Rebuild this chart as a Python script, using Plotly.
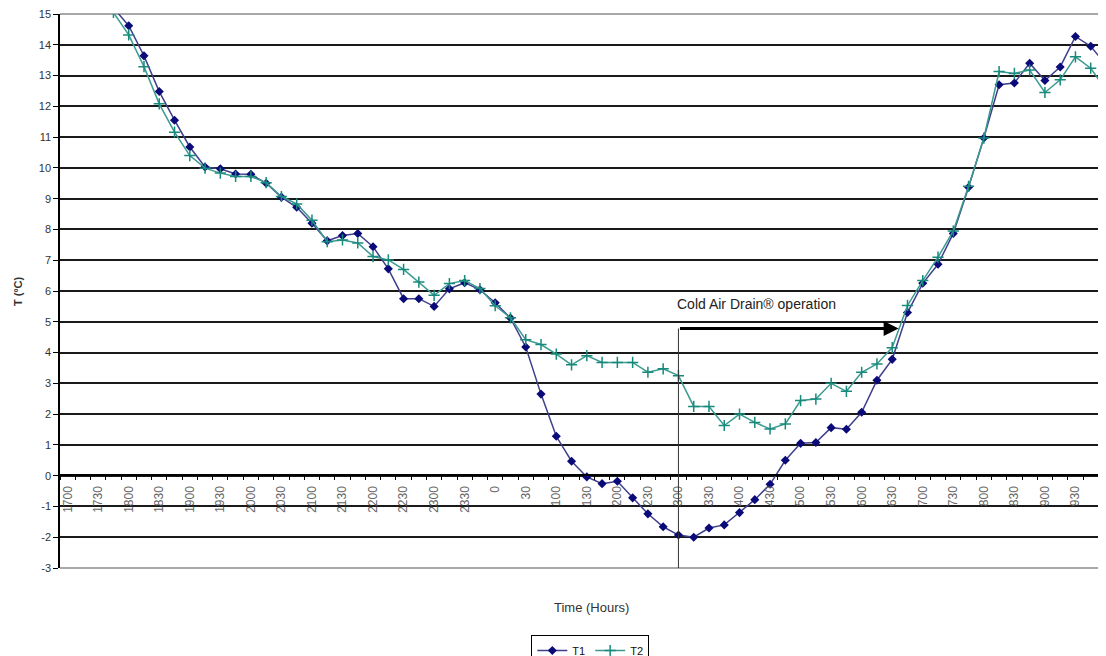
import plotly.graph_objects as go

# ---- data ----
times = ["1700", "1715", "1730", "1745", "1800", "1815", "1830", "1845",
         "1900", "1915", "1930", "1945", "2000", "2015", "2030", "2045",
         "2100", "2115", "2130", "2145", "2200", "2215", "2230", "2245",
         "2300", "2315", "2330", "2345", "0", "15", "30", "45",
         "100", "115", "130", "145", "200", "215", "230", "245",
         "300", "315", "330", "345", "400", "415", "430", "445",
         "500", "515", "530", "545", "600", "615", "630", "645",
         "700", "715", "730", "745", "800", "815", "830", "845",
         "900", "915", "930", "945", "1000"]

tick_labels = ["1700", "1730", "1800", "1830", "1900", "1930", "2000", "2030",
               "2100", "2130", "2200", "2230", "2300", "2330", "0", "30",
               "100", "130", "200", "230", "300", "330", "400", "430",
               "500", "530", "600", "630", "700", "730", "800", "830",
               "900", "930", "1000"]

T1 = [18.0, 17.1, 16.1, 15.2, 14.62, 13.64, 12.48, 11.55,
      10.68, 10.03, 9.97, 9.80, 9.79, 9.50, 9.05, 8.72,
      8.20, 7.63, 7.80, 7.87, 7.44, 6.72, 5.75, 5.75,
      5.50, 6.07, 6.27, 6.04, 5.62, 5.12, 4.18, 2.65,
      1.28, 0.47, -0.04, -0.26, -0.18, -0.72, -1.24, -1.66,
      -1.93, -2.00, -1.70, -1.60, -1.20, -0.78, -0.28, 0.50,
      1.05, 1.08, 1.56, 1.51, 2.06, 3.10, 3.78, 5.30,
      6.25, 6.87, 7.87, 9.37, 10.97, 12.70, 12.76, 13.40,
      12.84, 13.28, 14.27, 13.95, 13.35]

T2 = [17.7, 16.8, 15.9, 15.05, 14.32, 13.29, 12.08, 11.16,
      10.40, 9.99, 9.83, 9.72, 9.72, 9.52, 9.07, 8.83,
      8.30, 7.60, 7.66, 7.56, 7.12, 7.01, 6.70, 6.29,
      5.86, 6.24, 6.34, 6.08, 5.52, 5.13, 4.42, 4.26,
      3.95, 3.60, 3.90, 3.68, 3.68, 3.68, 3.36, 3.47,
      3.25, 2.25, 2.25, 1.63, 2.00, 1.73, 1.52, 1.68,
      2.44, 2.49, 3.00, 2.74, 3.36, 3.63, 4.16, 5.53,
      6.34, 7.10, 7.95, 9.40, 10.97, 13.13, 13.07, 13.18,
      12.45, 12.86, 13.61, 13.24, 12.53]

y_ticks = list(range(-3, 16))
y_tick_text = [str(v) for v in y_ticks]   # plain hyphen minus

# ---- figure ----
FONT = "Liberation Sans, Arial, sans-serif"
xidx = list(range(len(times)))
tick_pos = [times.index(t) for t in tick_labels]
start_idx = times.index("300")

fig = go.Figure()
fig.add_trace(go.Scatter(
    x=xidx, y=T1, name="T1", mode="lines+markers",
    line=dict(color="#3f3f8c", width=1.5),
    marker=dict(symbol="diamond", size=7, color="#0a0a78"),
))
fig.add_trace(go.Scatter(
    x=xidx, y=T2, name="T2", mode="lines+markers",
    line=dict(color="#3a9a90", width=1.5),
    marker=dict(symbol="cross-thin", size=8, color="#178a7c",
                line=dict(color="#178a7c", width=1.5)),
))

# page has an 8px body margin; plot area in page px: left 60, top 14, bottom 568
fig.update_layout(
    width=1098, height=648,
    margin=dict(l=52, r=0, t=6, b=88, autoexpand=False),
    plot_bgcolor="white", paper_bgcolor="white",
    font=dict(family=FONT, color="#333"),
    showlegend=True,
    legend=dict(orientation="h", x=0.507, xanchor="center",
                y=-0.121, yanchor="top", bordercolor="black",
                borderwidth=1, bgcolor="white", itemwidth=30,
                tracegroupgap=0,
                font=dict(size=11, color="#111", family=FONT)),
)

fig.update_yaxes(
    range=[-3, 15], tickmode="array", tickvals=y_ticks,
    ticktext=y_tick_text, automargin=False, ticklabeloverflow="allow",
    ticks="outside", ticklen=5, tickcolor="black",
    showline=True, linecolor="black", linewidth=1.5,
    showgrid=True, gridcolor="#1a1a1a", gridwidth=1.5,
    zeroline=False, tickfont=dict(size=11, color="#333", family=FONT),
)

fig.update_xaxes(
    range=[-0.5, 68.0], anchor="free", position=0.1686,
    automargin=False, ticklabeloverflow="allow",
    tickmode="array", tickvals=tick_pos, ticktext=tick_labels,
    tickangle=-90, ticks="outside", ticklen=6,
    tickcolor="rgba(0,0,0,0)",
    showline=True, linecolor="black", linewidth=1.5,
    showgrid=False, zeroline=False,
    tickfont=dict(size=12, color="#666", family=FONT),
    minor=dict(tickmode="linear", tick0=-0.5, dtick=1, ticks="outside",
               ticklen=5, tickcolor="black", tickwidth=1, showgrid=False),
)

# grey plot-area frame at top and bottom
for yy in (0, 1):
    fig.add_shape(type="line", xref="paper", yref="paper",
                  x0=0, x1=1, y0=yy, y1=yy, layer="between",
                  line=dict(color="#a8a8a8", width=2))

# vertical marker at start of operation
fig.add_shape(type="line", xref="x", yref="y",
              x0=start_idx, x1=start_idx, y0=-3, y1=4.78,
              line=dict(color="#333", width=1))

# arrow
fig.add_annotation(x=54.42, y=4.78, ax=start_idx, ay=4.78,
                   xref="x", yref="y", axref="x", ayref="y",
                   text="", showarrow=True, arrowhead=2, arrowsize=1,
                   arrowwidth=3, arrowcolor="black")

fig.add_annotation(x=start_idx, y=5.59, xref="x", yref="y",
                   text="Cold Air Drain® operation", showarrow=False,
                   xanchor="left", yanchor="middle", xshift=-3,
                   font=dict(size=14, color="#222", family=FONT))

# axis titles
fig.add_annotation(x=-0.0402, y=0.5, xref="paper", yref="paper",
                   text="<b>T (ºC)</b>", textangle=-90, showarrow=False,
                   xanchor="center", yanchor="middle",
                   font=dict(size=11, color="#333", family=FONT))
fig.add_annotation(x=0.508, y=-0.0722, xref="paper", yref="paper",
                   text="Time (Hours)", showarrow=False,
                   xanchor="center", yanchor="middle",
                   font=dict(size=13, color="#333", family=FONT))

fig.write_html("out.html")
